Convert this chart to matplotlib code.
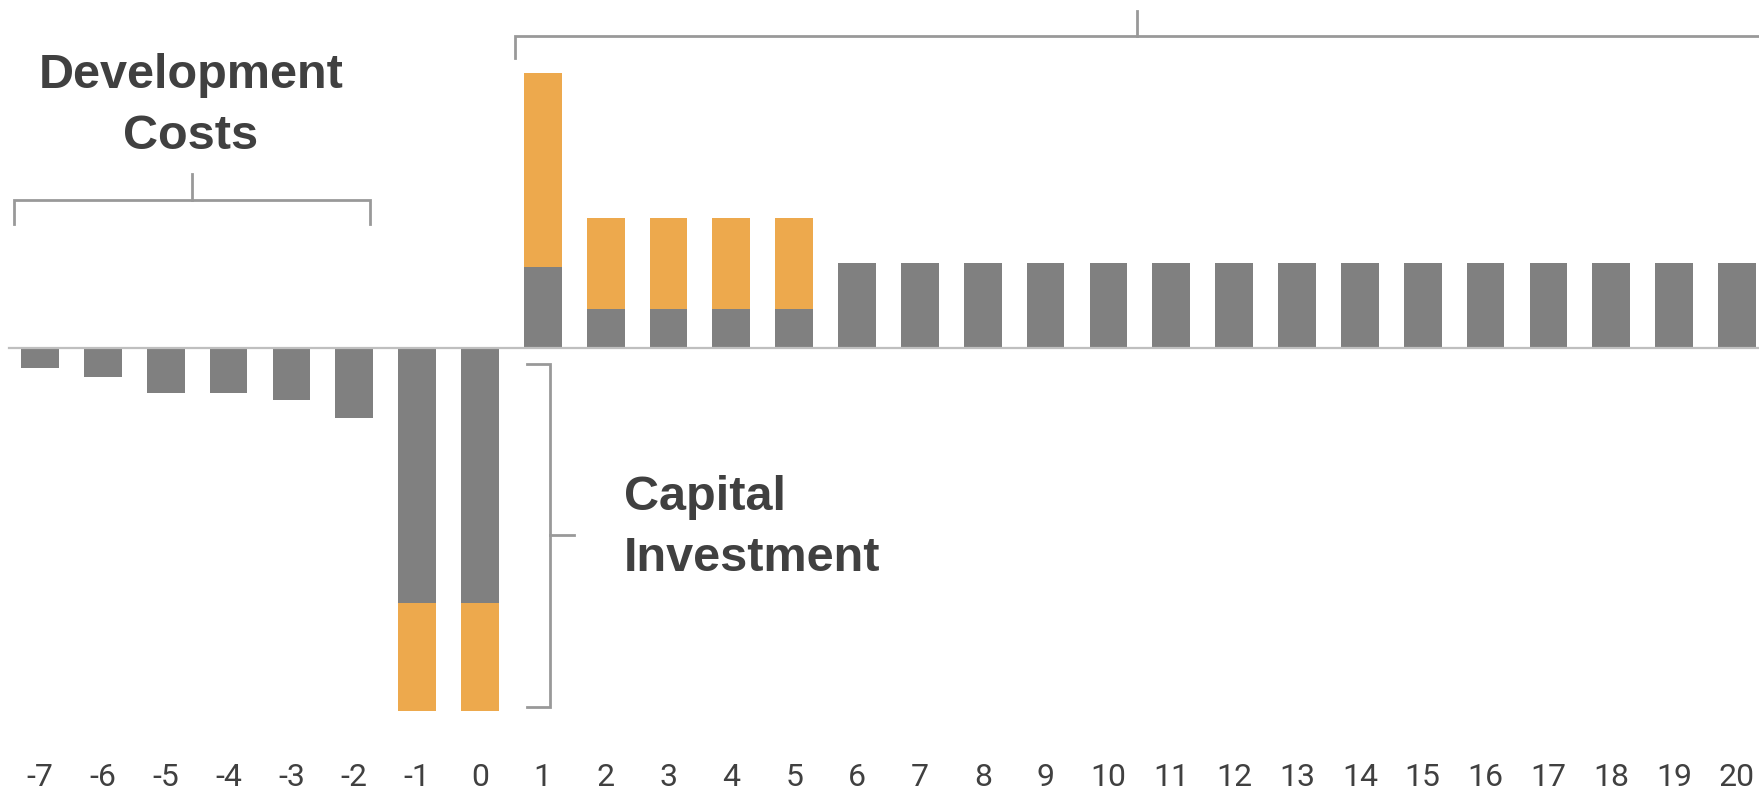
import numpy as np
import matplotlib
matplotlib.use('Agg')
import matplotlib.pyplot as plt

plt.rcParams['font.family'] = ['Liberation Sans', 'DejaVu Sans']

# years relative to start of operation
years = list(range(-7, 21))
# grey part of each bar (cash flow, arbitrary units)
base = [-20, -29, -45, -45, -52, -70, -255, -255, 81, 39, 39, 39, 39] + [85] * 15
# orange part stacked on top of the grey
extra = [0, 0, 0, 0, 0, 0, -108, -108, 194, 91, 91, 91, 91] + [0] * 15
tick_labels = [str(y) for y in years]

grey = '#808080'
orange = '#EDA94D'
brk = '#999999'
txt = '#404040'

fig = plt.figure(figsize=(17.59, 7.94), dpi=100)
ax = fig.add_axes([0, 0, 1, 1])

x = np.array(years)
base = np.array(base)
extra = np.array(extra)
ax.bar(x, base, width=0.6, color=grey, zorder=2)
ax.bar(x, extra, width=0.6, bottom=base, color=orange, zorder=2)

# zero line
ax.plot([-7.5, 20.5], [0, 0], color='#bfbfbf', lw=1.6, zorder=3)

# year labels
for xi, lab in zip(x, tick_labels):
    ax.text(xi, -429, lab, ha='center', va='center', fontsize=23, color=txt,
            family=['Roboto', 'DejaVu Sans'])

# development costs bracket
ax.plot([-7.42, -7.42, -1.75, -1.75], [124, 148, 148, 124], color=brk, lw=2, solid_joinstyle='miter')
ax.plot([-4.58, -4.58], [148, 174], color=brk, lw=2)
ax.text(-4.6, 242, 'Development\nCosts', ha='center', va='center', fontsize=35,
        fontweight='bold', color=txt, linespacing=1.45)

# operating years bracket
ax.plot([0.56, 0.56, 21], [290, 312, 312], color=brk, lw=2, solid_joinstyle='miter')
ax.plot([10.46, 10.46], [312, 337], color=brk, lw=2)

# capital investment bracket
ax.plot([0.75, 1.12, 1.12, 0.75], [-16, -16, -359, -359], color=brk, lw=2, solid_joinstyle='miter')
ax.plot([1.12, 1.5], [-187, -187], color=brk, lw=2)
ax.text(2.29, -180, 'Capital\nInvestment', ha='left', va='center', fontsize=35,
        fontweight='bold', color=txt, linespacing=1.45)

ax.set_xlim(-7.636, 20.35)
ax.set_ylim(-446, 348)
ax.axis('off')

fig.savefig('out.png', dpi=100)
